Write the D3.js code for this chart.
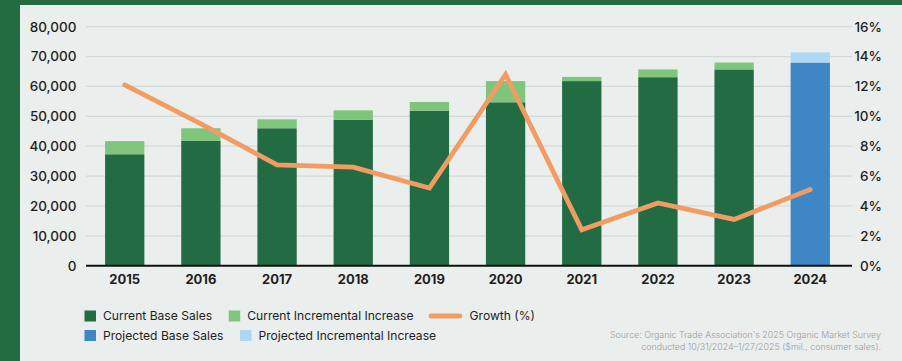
<!DOCTYPE html>
<html>
<head>
<meta charset="utf-8">
<script src="https://cdn.jsdelivr.net/npm/d3@7"></script>
<style>
  html, body { margin: 0; padding: 0; background: #236b41; }
  svg { display: block; }
  text { font-family: Inter, "Open Sans", sans-serif; }
</style>
</head>
<body>
<svg id="chart" width="902" height="361"></svg>
<script>
// U.S. organic sales ($ millions) and year-over-year growth
const years = ["2015", "2016", "2017", "2018", "2019", "2020", "2021", "2022", "2023", "2024"];
const baseSales = [37300, 41800, 46000, 48800, 51900, 54700, 61800, 63100, 65700, 68000];
const incrementalIncrease = [4400, 4200, 3000, 3200, 2900, 7100, 1400, 2600, 2300, 3400];
const growthPct = [12.1, 9.5, 6.75, 6.6, 5.2, 12.8, 2.4, 4.2, 3.1, 5.1];
const projectedYears = ["2024"];
const salesTicks = [0, 10000, 20000, 30000, 40000, 50000, 60000, 70000, 80000];
const growthTicks = [0, 2, 4, 6, 8, 10, 12, 14, 16];
const legendItems = [
  { label: "Current Base Sales", kind: "current-base" },
  { label: "Current Incremental Increase", kind: "current-inc" },
  { label: "Growth (%)", kind: "growth" },
  { label: "Projected Base Sales", kind: "projected-base" },
  { label: "Projected Incremental Increase", kind: "projected-inc" }
];
const sourceLines = [
  "Source: Organic Trade Association's 2025 Organic Market Survey",
  "conducted 10/31/2024\u20131/27/2025 ($mil., consumer sales)."
];

const colors = {
  border: "#236b41",
  panel: "#eaeeed",
  grid: "#d3d8d8",
  "current-base": "#236c43",
  "current-inc": "#80c57c",
  "projected-base": "#3f86c6",
  "projected-inc": "#acd8f4",
  growth: "#f09c63",
  text: "#1e1e1e",
  source: "#9a9d9d"
};

const svg = d3.select("#chart");

// background panel inside the green frame
svg.append("rect").attr("x", 20).attr("y", 5).attr("width", 882).attr("height", 356)
  .attr("fill", colors.panel);

const plot = { left: 86, right: 852, top: 26.7, bottom: 265.7 };

const x = d3.scaleBand().domain(years)
  .range([plot.left - 1.5, plot.right - 1.5])
  .paddingInner(0.484).paddingOuter(0.27);
const y = d3.scaleLinear().domain([0, 80000]).range([plot.bottom, plot.top]);
const yRight = d3.scaleLinear().domain([0, 16]).range([plot.bottom, plot.top]);

// horizontal gridlines
svg.append("g").selectAll("line").data(salesTicks.slice(1)).join("line")
  .attr("x1", plot.left).attr("x2", plot.right)
  .attr("y1", d => y(d)).attr("y2", d => y(d))
  .attr("stroke", colors.grid).attr("stroke-width", 1.2);

// left axis
const leftAxis = svg.append("g").attr("transform", `translate(${plot.left},0)`)
  .call(d3.axisLeft(y).tickValues(salesTicks).tickFormat(d3.format(",")).tickSize(0).tickPadding(9.5));
leftAxis.select(".domain").remove();
leftAxis.selectAll("text").attr("font-size", 13.5).attr("font-weight", 500).attr("fill", colors.text);

// right axis
const rightAxis = svg.append("g").attr("transform", `translate(${plot.right},0)`)
  .call(d3.axisRight(yRight).tickValues(growthTicks).tickFormat(d => d + "%").tickSize(0).tickPadding(30));
rightAxis.select(".domain").remove();
rightAxis.selectAll("text").attr("font-size", 13.5).attr("font-weight", 500).attr("fill", colors.text)
  .attr("text-anchor", "end");

// stacked bars
const isProjected = yr => projectedYears.includes(yr);
const bars = svg.append("g");
bars.selectAll("rect.base").data(years).join("rect").attr("class", "base")
  .attr("x", d => x(d)).attr("width", x.bandwidth())
  .attr("y", (d, i) => y(baseSales[i]))
  .attr("height", (d, i) => y(0) - y(baseSales[i]))
  .attr("fill", d => isProjected(d) ? colors["projected-base"] : colors["current-base"]);
bars.selectAll("rect.inc").data(years).join("rect").attr("class", "inc")
  .attr("x", d => x(d)).attr("width", x.bandwidth())
  .attr("y", (d, i) => y(baseSales[i] + incrementalIncrease[i]))
  .attr("height", (d, i) => y(baseSales[i]) - y(baseSales[i] + incrementalIncrease[i]))
  .attr("fill", d => isProjected(d) ? colors["projected-inc"] : colors["current-inc"]);

// baseline
svg.append("line").attr("x1", plot.left).attr("x2", plot.right)
  .attr("y1", y(0)).attr("y2", y(0))
  .attr("stroke", "#111").attr("stroke-width", 2);

// x axis labels
const xAxis = svg.append("g").attr("transform", `translate(0,${plot.bottom})`)
  .call(d3.axisBottom(x).tickSize(0).tickPadding(9));
xAxis.select(".domain").remove();
xAxis.selectAll("text").attr("font-size", 13).attr("font-weight", 700).attr("fill", colors.text);

// growth line
const line = d3.line()
  .x((d, i) => x(years[i]) + x.bandwidth() / 2)
  .y(d => yRight(d));
svg.append("path").datum(growthPct)
  .attr("d", line).attr("fill", "none")
  .attr("stroke", colors.growth).attr("stroke-width", 4.8)
  .attr("stroke-linejoin", "miter").attr("stroke-linecap", "round");

// legend
const legendPos = [
  { x: 84.5, y: 316 },
  { x: 228.7, y: 316 },
  { x: 430, y: 316 },
  { x: 84.5, y: 335.5 },
  { x: 240, y: 335.5 }
];
const legend = svg.append("g");
legendItems.forEach((item, i) => {
  const p = legendPos[i];
  const g = legend.append("g").attr("transform", `translate(${p.x},${p.y})`);
  if (item.kind === "growth") {
    g.append("line").attr("x1", 1).attr("x2", 30).attr("y1", 0).attr("y2", 0)
      .attr("stroke", colors.growth).attr("stroke-width", 4.8).attr("stroke-linecap", "round");
    g.append("text").attr("x", 39.5).attr("y", 0).attr("dy", "0.35em")
      .attr("font-size", 12.1).attr("fill", colors.text).text(item.label);
  } else {
    g.append("rect").attr("x", 0).attr("y", -5.5).attr("width", 11.5).attr("height", 11)
      .attr("fill", colors[item.kind]);
    g.append("text").attr("x", 18.5).attr("y", 0).attr("dy", "0.35em")
      .attr("font-size", 12.1).attr("fill", colors.text).text(item.label);
  }
});

// source note
svg.append("g").selectAll("text").data(sourceLines).join("text")
  .attr("x", 881).attr("y", (d, i) => 334.5 + i * 12.5).attr("dy", "0.35em")
  .attr("text-anchor", "end").attr("font-size", 8.9).attr("font-weight", 300)
  .attr("fill", colors.source).text(d => d);
</script>
</body>
</html>
